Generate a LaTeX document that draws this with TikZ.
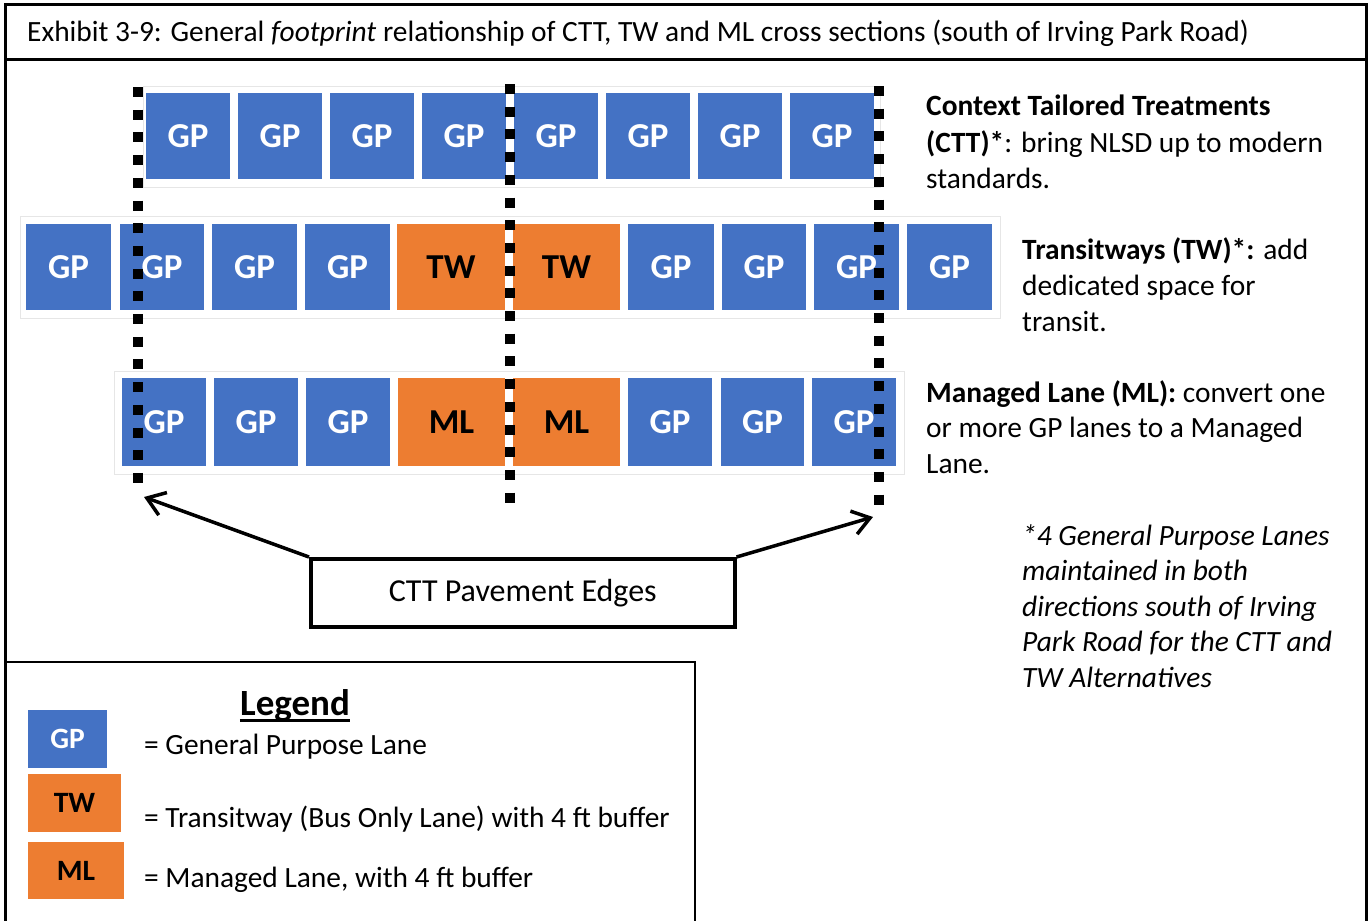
\documentclass[tikz,border=0pt]{standalone}
\usepackage{fontspec}
\setmainfont{Carlito}
\usetikzlibrary{arrows.meta}
\definecolor{gpblue}{HTML}{4472C4}
\definecolor{tworange}{HTML}{ED7D31}
\definecolor{faint}{HTML}{E6E6E6}
\begin{document}
\begin{tikzpicture}[x=1pt,y=-1pt,
  lane/.style={anchor=north west, inner sep=0pt, outer sep=0pt, minimum height=86pt,
    font=\fontsize{35}{36}\selectfont\bfseries},
  gp/.style={lane, fill=gpblue, text=white},
  tw/.style={lane, fill=tworange, text=black},
  lgbox/.style={anchor=north west, inner sep=0pt, outer sep=0pt, minimum height=58pt,
    font=\fontsize{29.5}{30}\selectfont\bfseries},
  edgeline/.style={line width=10pt, dash pattern=on 10pt off 12.7pt},
  rowframe/.style={draw=faint, line width=1pt},
  txt/.style={anchor=base west, inner sep=0pt, font=\fontsize{29.4}{35}\selectfont},
  note/.style={txt, font=\fontsize{29.4}{35}\selectfont\itshape},
  arr/.style={line width=3.5pt, -{Straight Barb[length=17pt,width=24pt]}},
  frameline/.style={line width=3pt}
]
\useasboundingbox (0,0) rectangle (1369,921);
\clip (0,0) rectangle (1369,921);
\fill[white] (0,0) rectangle (1369,921);

% outer frame and title
\draw[frameline] (5,930) -- (5,4) -- (1366,4) -- (1366,930);
\draw[frameline] (5,59) -- (1366,59);
\node[txt] (title) at (27,41.5) {Exhibit 3-9: General \textit{footprint} relationship of CTT, TW and ML cross sections (south of Irving Park Road)};

% faint row frames
\draw[rowframe] (143,86) rectangle (880,187);
\draw[rowframe] (20,216) rectangle (1000,318);
\draw[rowframe] (114,371) rectangle (904,474);

% Row 1: CTT
\node[gp, minimum width=84pt] (a1) at (146,93) {GP};
\node[gp, minimum width=84pt] (a2) at (238,93) {GP};
\node[gp, minimum width=84pt] (a3) at (330,93) {GP};
\node[gp, minimum width=84pt] (a4) at (422,93) {GP};
\node[gp, minimum width=84pt] (a5) at (514,93) {GP};
\node[gp, minimum width=84pt] (a6) at (606,93) {GP};
\node[gp, minimum width=84pt] (a7) at (698,93) {GP};
\node[gp, minimum width=84pt] (a8) at (790,93) {GP};

% Row 2: TW
\node[gp, minimum width=85pt] (b1) at (26,224) {GP};
\node[gp, minimum width=84pt] (b2) at (120,224) {GP};
\node[gp, minimum width=85pt] (b3) at (212,224) {GP};
\node[gp, minimum width=85pt] (b4) at (305,224) {GP};
\node[tw, minimum width=108pt] (b5) at (397,224) {TW};
\node[tw, minimum width=107pt] (b6) at (513,224) {TW};
\node[gp, minimum width=86pt] (b7) at (628,224) {GP};
\node[gp, minimum width=84pt] (b8) at (722,224) {GP};
\node[gp, minimum width=85pt] (b9) at (814,224) {GP};
\node[gp, minimum width=85pt] (b10) at (907,224) {GP};

% Row 3: ML
\node[gp, minimum width=84pt, minimum height=88pt] (c1) at (122,378) {GP};
\node[gp, minimum width=84pt, minimum height=88pt] (c2) at (214,378) {GP};
\node[gp, minimum width=84pt, minimum height=88pt] (c3) at (306,378) {GP};
\node[tw, minimum width=107pt, minimum height=88pt] (c4) at (398,378) {ML};
\node[tw, minimum width=107pt, minimum height=88pt] (c5) at (513,378) {ML};
\node[gp, minimum width=84pt, minimum height=88pt] (c6) at (628,378) {GP};
\node[gp, minimum width=83pt, minimum height=88pt] (c7) at (721,378) {GP};
\node[gp, minimum width=84pt, minimum height=88pt] (c8) at (812,378) {GP};

% CTT pavement edge lines
\coordinate (L1) at (137.5,87);  \coordinate (L2) at (137.5,492);
\coordinate (M1) at (509.5,84);  \coordinate (M2) at (509.5,507);
\coordinate (R1) at (879,86);    \coordinate (R2) at (879,513);
\draw[edgeline] (L1) -- (L2);
\draw[edgeline] (M1) -- (M2);
\draw[edgeline] (R1) -- (R2);

% callout
\node[draw, line width=3.5pt, anchor=north west, inner sep=0pt, minimum width=424pt,
      minimum height=68pt, font=\fontsize{32}{36}\selectfont] (ctt) at (309,557) {CTT Pavement Edges};
\coordinate (LA) at (144,497);
\coordinate (RA) at (873,517);
\draw[arr] (ctt.north west) -- (LA);
\draw[arr] (ctt.north east) -- (RA);

% right-hand descriptions
\node[txt] (t1) at (926,115) {\textbf{Context Tailored Treatments}};
\node[txt] (t2) at (926,152) {\textbf{(CTT)*}: bring NLSD up to modern};
\node[txt] (t3) at (926,188) {standards.};
\node[txt] (u1) at (1022,259) {\textbf{Transitways (TW)*:} add};
\node[txt] (u2) at (1022,295) {dedicated space for};
\node[txt] (u3) at (1022,331) {transit.};
\node[txt] (v1) at (926,402) {\textbf{Managed Lane (ML):} convert one};
\node[txt] (v2) at (926,437) {or more GP lanes to a Managed};
\node[txt] (v3) at (926,473) {Lane.};
\node[note] (n1) at (1022,545) {*4 General Purpose Lanes};
\node[note] (n2) at (1022,580) {maintained in both};
\node[note] (n3) at (1022,616) {directions south of Irving};
\node[note] (n4) at (1022,651) {Park Road for the CTT and};
\node[note] (n5) at (1022,687) {TW Alternatives};

% legend
\draw[line width=2.5pt] (5,662) -- (695,662) -- (695,930);
\node[anchor=base, inner sep=0pt, font=\fontsize{37}{40}\selectfont\bfseries] (legend) at (295,715) {Legend};
\draw[line width=3pt] ([yshift=-5pt]legend.base west) -- ([yshift=-5pt]legend.base east);
\node[lgbox, fill=gpblue, text=white, minimum width=79pt] (lgp) at (28,710) {GP};
\node[lgbox, fill=tworange, minimum width=93pt] (ltw) at (28,774) {TW};
\node[lgbox, fill=tworange, minimum width=96pt, minimum height=57pt] (lml) at (28,842) {ML};
\node[txt] (lt1) at (144,754) {= General Purpose Lane};
\node[txt] (lt2) at (144,827) {= Transitway (Bus Only Lane) with 4 ft buffer};
\node[txt] (lt3) at (144,887) {= Managed Lane, with 4 ft buffer};
\end{tikzpicture}
\end{document}
